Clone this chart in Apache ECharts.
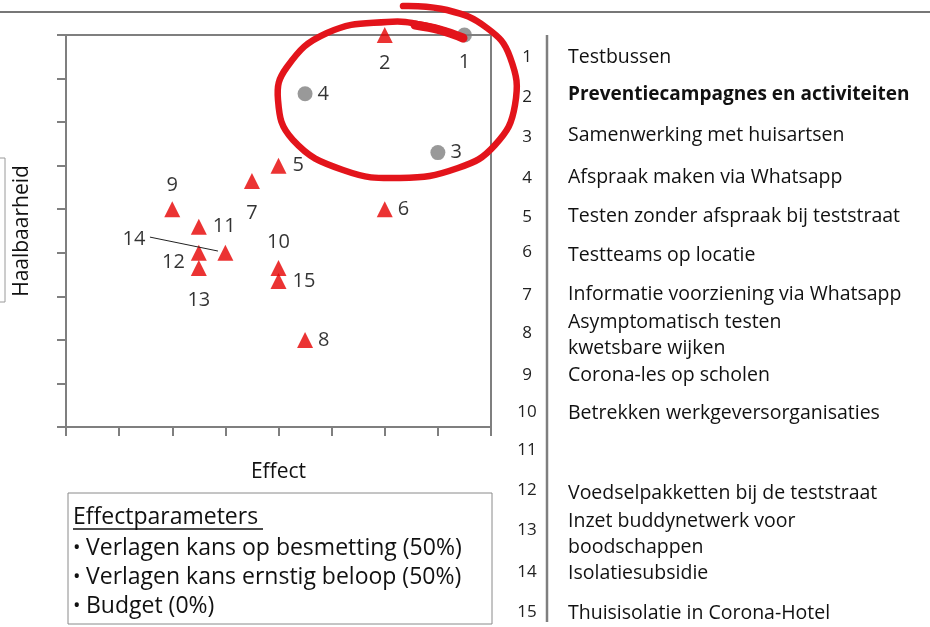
<!DOCTYPE html>
<html><head><meta charset="utf-8">
<script src="https://cdn.jsdelivr.net/npm/echarts@6/dist/echarts.min.js"></script>
<style>html,body{margin:0;padding:0;background:#fff}#c{width:930px;height:627px}</style>
</head><body><div id="c"></div>
<script>
// ---- data ----
const ids = ['1','2','3','4','5','6','7','8','9','10','11','12','13','14','15'];
const effect = [7.5, 6, 7, 4.5, 4, 6, 3.5, 4.5, 2, 4, 2.5, 2.5, 2.5, 3, 4];
const haalbaarheid = [9, 9, 6.3, 7.65, 6, 5, 5.65, 2, 5, 3.65, 4.6, 4, 3.65, 4, 3.35];
const group = ['A','B','A','A','B','B','B','B','B','B','B','B','B','B','B'];
const measures = [
  'Testbussen',
  'Preventiecampagnes en activiteiten',
  'Samenwerking met huisartsen',
  'Afspraak maken via Whatsapp',
  'Testen zonder afspraak bij teststraat',
  'Testteams op locatie',
  'Informatie voorziening via Whatsapp',
  'Asymptomatisch testen\nkwetsbare wijken',
  'Corona-les op scholen',
  'Betrekken werkgeversorganisaties',
  '',
  'Voedselpakketten bij de teststraat',
  'Inzet buddynetwerk voor\nboodschappen',
  'Isolatiesubsidie',
  'Thuisisolatie in Corona-Hotel'
];
const highlighted = ['2'];
const xAxisTitle = 'Effect';
const yAxisTitle = 'Haalbaarheid';
const paramsTitle = 'Effectparameters';
const effectParams = ['Verlagen kans op besmetting (50%)', 'Verlagen kans ernstig beloop (50%)', 'Budget (0%)'];

// ---- layout / style ----
const FONT = '"Open Sans", sans-serif';
const labelPlacement = {
  '1': {position:'bottom', distance:10},
  '2': {position:'bottom', distance:10},
  '3': {position:'right', distance:5},
  '4': {position:'right', distance:5},
  '5': {position:'right', distance:6},
  '6': {position:'right', distance:5},
  '7': {position:'bottom', distance:14},
  '8': {position:'right', distance:5},
  '9': {position:'top', distance:6},
  '10': {position:'top', distance:8},
  '11': {position:'right', distance:6},
  '12': {position:'left', distance:6, offset:[0,10]},
  '13': {position:'bottom', distance:14},
  '14': {position:'left', distance:72, offset:[0,-13]},
  '15': {position:'right', distance:6}
};
const numY = [57, 97, 137, 178, 217, 252, 295, 333, 375, 412, 450, 490, 530, 572, 612];
const textY = [57, 95, 135, 177, 216, 255, 294, 335, 375, 413, 450, 493, 534, 573, 613];

function buildData(g) {
  const out = [];
  ids.forEach((id, i) => {
    if (group[i] !== g) return;
    const p = labelPlacement[id];
    out.push({name: id, value: [effect[i], haalbaarheid[i]], label: Object.assign({show:true}, p)});
  });
  return out;
}
const i14 = ids.indexOf('14');

const axisLineStyle = {color:'#7f7f7f', width:2};
const graphic = [
  {type:'line', shape:{x1:0,y1:12,x2:930,y2:12}, style:{stroke:'#4a4a4a', lineWidth:1.5}, silent:true},
  {type:'rect', shape:{x:-10,y:158,width:15,height:144}, style:{fill:'none', stroke:'#9a9a9a', lineWidth:1}},
  {type:'line', shape:{x1:547,y1:35,x2:547,y2:622}, style:{stroke:'#7f7f7f', lineWidth:2.5}},
  {type:'rect', shape:{x:68,y:493,width:424,height:131}, style:{fill:'none', stroke:'#8a8a8a', lineWidth:1}},
  {type:'text', x:73, y:517, style:{text:paramsTitle, font:'23px '+FONT, fill:'#111', textVerticalAlign:'middle'}},
  {type:'line', shape:{x1:73,y1:529,x2:263,y2:529}, style:{stroke:'#111', lineWidth:1.3}}
];
effectParams.forEach((t, k) => {
  graphic.push({type:'text', x:73, y:548 + k*29, style:{text:'•', font:'20px '+FONT, fill:'#111', textVerticalAlign:'middle'}});
  graphic.push({type:'text', x:86, y:548 + k*29, style:{text:t, font:'23px '+FONT, fill:'#111', textVerticalAlign:'middle'}});
});
ids.forEach((id, i) => {
  graphic.push({type:'text', x:527, y:numY[i], style:{text:id, font:'17px '+FONT, fill:'#222', textAlign:'center', textVerticalAlign:'middle'}});
  if (measures[i]) {
    const hl = highlighted.includes(id);
    graphic.push({type:'text', x:568, y:textY[i], style:{text:measures[i], font:(hl?'bold 19px ':'19.5px ')+FONT, fill:'#111', textVerticalAlign:'middle', lineHeight:26}});
  }
});
// hand-drawn red ring
graphic.push({type:'polyline', z:100, shape:{smooth:0.45, points:[
  [463,38],[427,26],[387,22],[327,33],[287,67],[278,100],[293,140],[343,170],[400,178],[458,168],[495,145],[515,105],[510,57],[487,28],[447,10],[403,6]
]}, style:{stroke:'#e3141b', lineWidth:6.5, fill:'none', lineCap:'round'}});
graphic.push({type:'polyline', z:100, shape:{smooth:0.4, points:[[463,38],[440,30],[415,25]]}, style:{stroke:'#e3141b', lineWidth:9, fill:'none', lineCap:'round'}});

const chart = echarts.init(document.getElementById('c'));
chart.setOption({
  animation:false,
  backgroundColor:'#fff',
  textStyle:{fontFamily:FONT},
  grid:{left:66, top:35, width:425, height:392, show:true, borderColor:'#7f7f7f', borderWidth:2},
  xAxis:{type:'value', min:0, max:8, interval:1, name:xAxisTitle, nameLocation:'middle', nameGap:35,
    nameTextStyle:{fontSize:21, color:'#111', fontFamily:FONT},
    axisLine:{show:true, lineStyle:axisLineStyle}, axisTick:{show:true, length:9, lineStyle:axisLineStyle},
    axisLabel:{show:false}, splitLine:{show:false}},
  yAxis:{type:'value', min:0, max:9, interval:1, name:yAxisTitle, nameLocation:'middle', nameGap:33,
    nameTextStyle:{fontSize:21, color:'#111', fontFamily:FONT},
    axisLine:{show:true, lineStyle:axisLineStyle}, axisTick:{show:true, length:9, lineStyle:axisLineStyle},
    axisLabel:{show:false}, splitLine:{show:false}},
  series:[
    {type:'scatter', symbol:'triangle', symbolSize:16, itemStyle:{color:'#e60000'},
     label:{show:true, formatter:'{b}', fontSize:20, color:'#000', fontFamily:FONT},
     data: buildData('B'),
     markLine:{silent:true, symbol:'none', label:{show:false}, lineStyle:{color:'#222', width:1, type:'solid'},
       data:[[{coord:[effect[i14]-1.42, haalbaarheid[i14]+0.36]}, {coord:[effect[i14]-0.14, haalbaarheid[i14]+0.04]}]]}},
    {type:'scatter', symbol:'circle', symbolSize:15, itemStyle:{color:'#808080'},
     label:{show:true, formatter:'{b}', fontSize:20, color:'#000', fontFamily:FONT},
     data: buildData('A')}
  ],
  graphic: graphic
});
</script></body></html>
